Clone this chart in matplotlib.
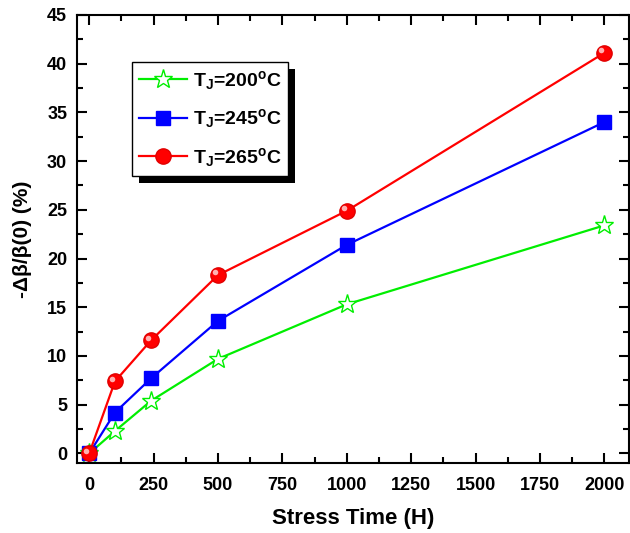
import matplotlib
matplotlib.use("Agg")
import matplotlib.pyplot as plt
from matplotlib.ticker import MultipleLocator
import matplotlib.patheffects as pe
import matplotlib.transforms as mtransforms

plt.rcParams['font.family'] = ['Liberation Sans', 'DejaVu Sans']
plt.rcParams['font.weight'] = 'bold'
plt.rcParams['mathtext.fontset'] = 'custom'
plt.rcParams['mathtext.rm'] = 'Liberation Sans:bold'
plt.rcParams['mathtext.bf'] = 'Liberation Sans:bold'
plt.rcParams['mathtext.it'] = 'Liberation Sans:bold'
plt.rcParams['mathtext.default'] = 'bf'

time = [0, 100, 240, 500, 1000, 2000]
t200 = [0, 2.3, 5.4, 9.7, 15.3, 23.4]
t245 = [0, 4.2, 7.7, 13.6, 21.4, 34.0]
t265 = [0, 7.4, 11.6, 18.3, 24.9, 41.1]

fig = plt.figure(figsize=(6.3, 5.33), dpi=100)
ax = fig.add_axes([0.122, 0.131, 0.876, 0.841])

ax.plot(time, t200, color='#00ee00', lw=1.6, marker='*', ms=14, mfc='white', mec='#00ee00', mew=1.0,
        label=r'T$_\mathregular{J}$=200$^\mathregular{o}$C', zorder=3)
ax.plot(time, t245, color='#0000ff', lw=1.6, marker='s', ms=10, mfc='#0000ff', mec='#0000ff',
        label=r'T$_\mathregular{J}$=245$^\mathregular{o}$C', zorder=3)
ax.plot(time, t265, color='#ff0000', lw=1.6, marker='o', ms=11, mfc='#ff0000', mec='#e00000',
        label=r'T$_\mathregular{J}$=265$^\mathregular{o}$C', zorder=3)
# highlight glint on the red balls
glint = mtransforms.offset_copy(ax.transData, fig=fig, x=-2, y=2, units='points')
ax.plot(time, t265, ls='none', marker='o', ms=4, mfc='#ffb0b0', mec='none', transform=glint, zorder=4)

ax.set_xlim(-48, 2095)
ax.set_ylim(-1, 45)
ax.xaxis.set_major_locator(MultipleLocator(250))
ax.xaxis.set_minor_locator(MultipleLocator(125))
ax.yaxis.set_major_locator(MultipleLocator(5))
ax.yaxis.set_minor_locator(MultipleLocator(2.5))
ax.tick_params(which='both', direction='in', top=True, right=True, width=1.5, labelsize=13)
ax.tick_params(which='major', length=7, pad=7)
ax.tick_params(axis='x', which='major', pad=10)
ax.tick_params(which='minor', length=4)
for lab in ax.get_xticklabels() + ax.get_yticklabels():
    lab.set_fontweight('bold')
for s in ax.spines.values():
    s.set_linewidth(1.5)

ax.set_xlabel('Stress Time (H)', fontsize=16, fontweight='bold')
ax.set_ylabel('-Δβ/β(0) (%)', fontsize=15, fontweight='bold')
ax.xaxis.set_label_coords(0.5, -0.1)
ax.yaxis.set_label_coords(-0.081, 0.5)

leg = ax.legend(loc='upper left', bbox_to_anchor=(0.0996, 0.895), borderaxespad=0, fontsize=14,
                frameon=True, fancybox=False, edgecolor='black', framealpha=1,
                handlelength=2.5, borderpad=0.35, labelspacing=0.8, handletextpad=0.3)
leg.get_frame().set_linewidth(1.0)
leg.get_frame().set_path_effects([pe.SimplePatchShadow(offset=(5, -5), shadow_rgbFace='black', alpha=1),
                                  pe.Normal()])
for t in leg.get_texts():
    t.set_fontweight('bold')

fig.savefig('out.png', dpi=100)
